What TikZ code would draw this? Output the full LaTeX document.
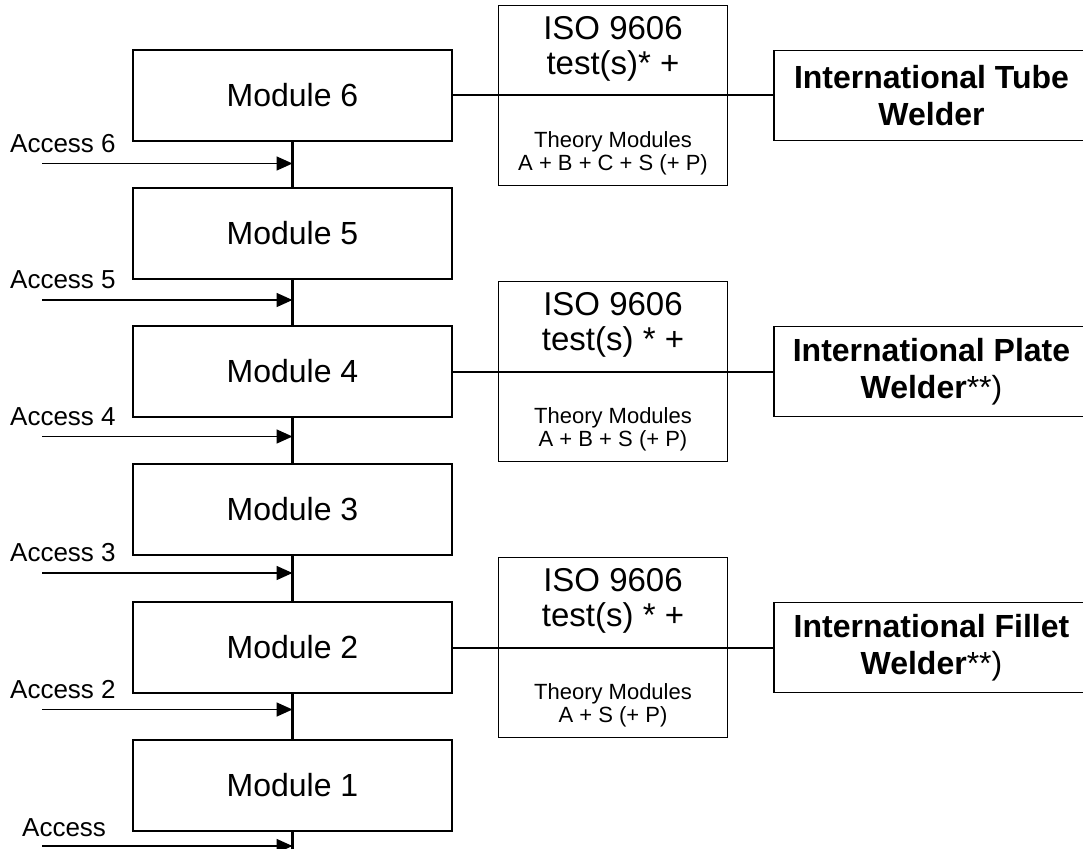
\documentclass[tikz,border=0pt]{standalone}
\usepackage{fontspec}
\setmainfont{Liberation Sans}
\usetikzlibrary{positioning,arrows.meta}

\begin{document}
\begin{tikzpicture}[
    x=1pt, y=-1pt,
    node distance=45.5pt,
    module/.style={rectangle, draw, line width=1.5pt, minimum width=319pt, minimum height=91pt, inner sep=0pt, font=\fontsize{32}{38}\selectfont},
    isobox/.style={rectangle, draw, line width=1.5pt, minimum width=229pt, minimum height=180pt, inner sep=0pt},
    isohead/.style={align=center, inner sep=0pt, font=\fontsize{33}{35}\selectfont},
    theory/.style={align=center, inner sep=0pt, font=\fontsize{22}{23}\selectfont},
    result/.style={rectangle, draw, line width=1.5pt, minimum width=315pt, minimum height=90pt, inner sep=0pt, align=center, font=\fontsize{32}{37}\selectfont\bfseries},
    access/.style={anchor=west, inner sep=0pt, font=\fontsize{26}{30}\selectfont},
    chain/.style={line width=3pt},
    link/.style={line width=2pt},
    feed/.style={-{Triangle[length=16pt,width=14pt]}, line width=1.6pt}
]
\useasboundingbox (0,0) rectangle (1083,848);

% Module stack
\node[module] (mod6) at (292.5,95.5) {Module 6};
\node[module, below=of mod6] (mod5) {Module 5};
\node[module, below=of mod5] (mod4) {Module 4};
\node[module, below=of mod4] (mod3) {Module 3};
\node[module, below=of mod3] (mod2) {Module 2};
\node[module, below=of mod2] (mod1) {Module 1};

% Chain between modules
\draw[chain] (mod6.south) -- (mod5.north);
\draw[chain] (mod5.south) -- (mod4.north);
\draw[chain] (mod4.south) -- (mod3.north);
\draw[chain] (mod3.south) -- (mod2.north);
\draw[chain] (mod2.south) -- (mod1.north);
\coordinate (tail) at (292.5,870);
\draw[chain] (mod1.south) -- (tail);

% Access points
\coordinate (in6) at (42,163.5);
\coordinate (in5) at (42,300);
\coordinate (in4) at (42,436.5);
\coordinate (in3) at (42,573);
\coordinate (in2) at (42,709.5);
\coordinate (in1) at (42,846);
\draw[feed] (in6) -- (in6 -| mod6.south);
\draw[feed] (in5) -- (in5 -| mod5.south);
\draw[feed] (in4) -- (in4 -| mod4.south);
\draw[feed] (in3) -- (in3 -| mod3.south);
\draw[feed] (in2) -- (in2 -| mod2.south);
\draw[feed] (in1) -- (in1 -| mod1.south);
\node[access] (acc6) at (10,143.5) {Access 6};
\node[access] (acc5) at (10,280) {Access 5};
\node[access] (acc4) at (10,416.5) {Access 4};
\node[access] (acc3) at (10,553) {Access 3};
\node[access] (acc2) at (10,689.5) {Access 2};
\node[access] (acc1) at (22,828) {Access};

% Test boxes
\node[isobox, right=45pt of mod6] (iso6) {};
\node[isobox, right=45pt of mod4] (iso4) {};
\node[isobox, right=45pt of mod2] (iso2) {};
\node[isohead] (head6) at ([yshift=47pt]iso6.center) {ISO 9606\\test(s)* +};
\node[isohead] (head4) at ([yshift=47pt]iso4.center) {ISO 9606\\test(s) * +};
\node[isohead] (head2) at ([yshift=47pt]iso2.center) {ISO 9606\\test(s) * +};
\node[theory] (theo6) at ([yshift=-58pt]iso6.center) {Theory Modules\\A + B + C + S (+ P)};
\node[theory] (theo4) at ([yshift=-58pt]iso4.center) {Theory Modules\\A + B + S (+ P)};
\node[theory] (theo2) at ([yshift=-58pt]iso2.center) {Theory Modules\\A + S (+ P)};

% Qualifications
\node[result, right=45pt of iso6] (res6) {International Tube\\Welder};
\node[result, right=45pt of iso4] (res4) {International Plate\\Welder{\mdseries**)}};
\node[result, right=45pt of iso2] (res2) {International Fillet\\Welder{\mdseries**)}};

% Links through the test boxes
\draw[link] (mod6.east) -- (res6.west);
\draw[link] (mod4.east) -- (res4.west);
\draw[link] (mod2.east) -- (res2.west);

\end{tikzpicture}
\end{document}
